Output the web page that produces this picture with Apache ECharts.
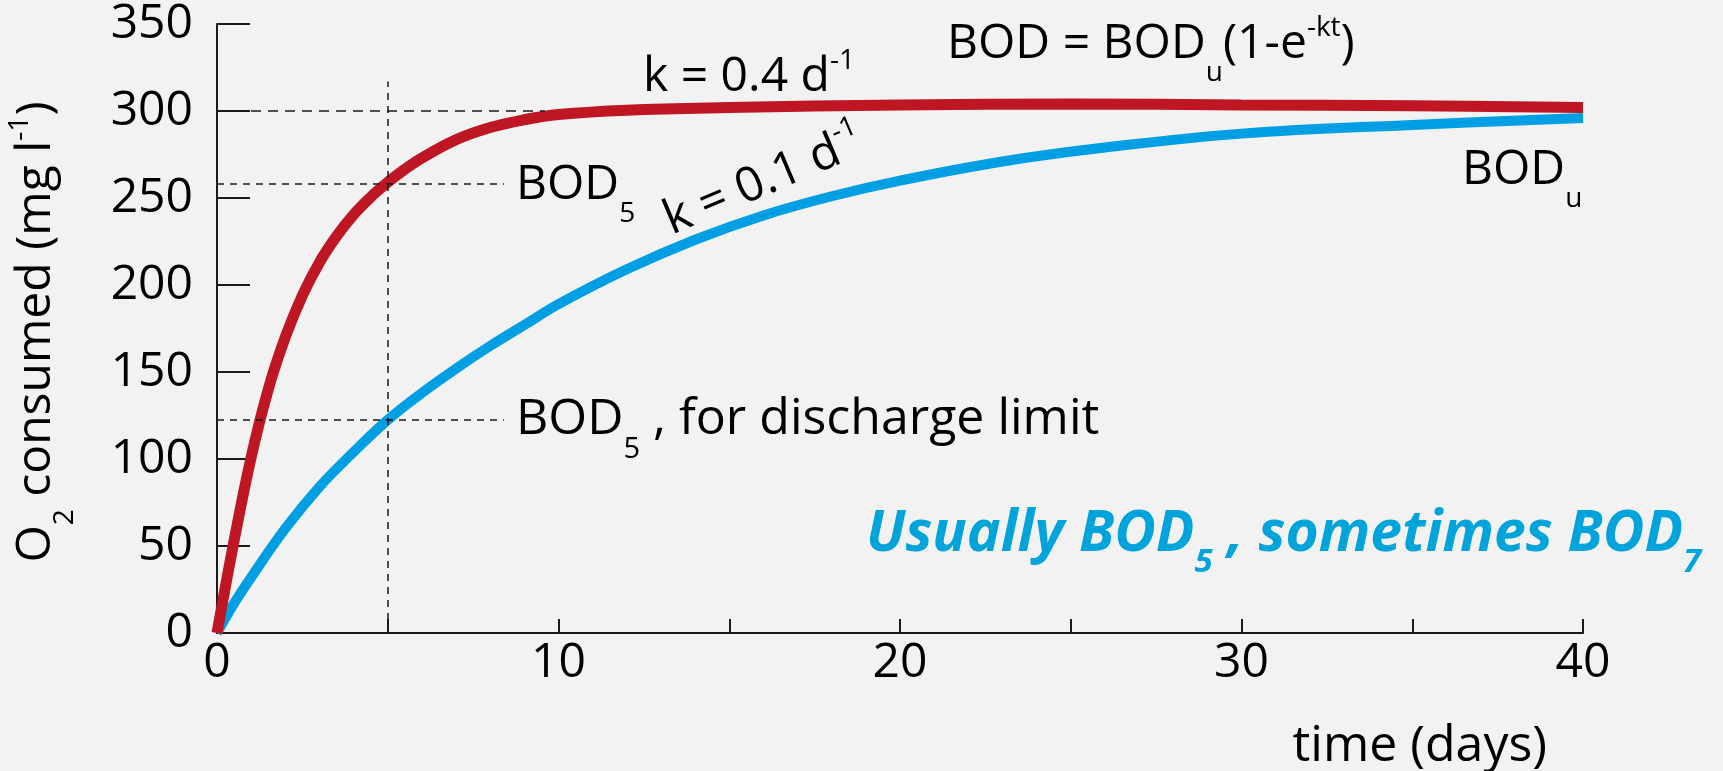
<!DOCTYPE html>
<html>
<head>
<meta charset="utf-8">
<script src="https://cdn.jsdelivr.net/npm/echarts@6/dist/echarts.min.js"></script>
<style>
html, body { margin: 0; padding: 0; background: #f2f2f2; }
#main-chart { width: 1723px; height: 771px; }
</style>
</head>
<body>
<div id="main-chart"></div>
<script>
var mainChart;
var FONT = "'Open Sans', 'Noto Sans', sans-serif";

// k = 0.4 d-1 curve (days, mg/l)
var fastDays = [0, 0.5, 1, 1.5, 2, 2.5, 3, 3.5, 4, 4.5, 5, 5.5, 6, 7, 8, 9, 10, 12, 15, 20, 25, 30, 35, 40];
var fastBod = [0, 53, 101, 140, 170, 194, 213, 228, 240.5, 250.5, 259, 266.5, 273, 283.5, 290.5, 295, 298, 300.5, 302, 303.5, 304, 303.5, 303, 302];

// k = 0.1 d-1 curve
var slowDays = [0, 0.5, 1, 2, 3, 4, 5, 6, 7, 8, 9, 10, 12, 14, 16, 18, 20, 23, 26, 30, 35, 40];
var slowBod = [0, 17, 32, 60, 84, 104, 122.5, 138, 152, 165, 177, 189, 209, 226, 240, 251, 260, 271, 279, 287, 292, 296];

// dashed guides
var guideLevels = [300, 258, 122.5];
var guideEnds = [9.6, 8.4, 8.4];
var bod5Day = 5;
var bod5Top = 317;

var xTicks = [0, 10, 20, 30, 40];
var yTicks = [0, 50, 100, 150, 200, 250, 300, 350];

window.onload = function () {
    chartInit();
};

function pairs(xs, ys) {
    var out = [];
    for (var i = 0; i < xs.length; i++) out.push([xs[i], ys[i]]);
    return out;
}

function richSet(size, color, weight, style, lh) {
    var sub = Math.round(size * 0.58);
    var tok = function (fs, va, pad) {
        return {
            fontFamily: FONT, fontSize: fs, fontWeight: weight, fontStyle: style,
            fill: color, color: color, verticalAlign: va, padding: pad
        };
    };
    var m = tok(size, 'middle', [0, 0, 0, 0]);
    m.lineHeight = lh;
    return {
        m: m,
        sub: tok(sub, 'bottom', [0, 0, 0, 0]),
        sup: tok(sub, 'top', [13, 0, 0, 0])
    };
}

function label(x, y, text, opts) {
    opts = opts || {};
    var size = opts.size || 48;
    return {
        type: 'text',
        x: x, y: y,
        rotation: opts.rotation || 0,
        style: {
            text: text,
            rich: richSet(size, opts.color || '#000', opts.weight || 'normal', opts.style || 'normal', opts.lh || 86),
            align: opts.align || 'left',
            verticalAlign: 'middle'
        }
    };
}

function chartInit() {
    mainChart = echarts.init(document.getElementById('main-chart'));

    var guideLines = [];
    for (var i = 0; i < guideLevels.length; i++) {
        guideLines.push([
            { coord: [0, guideLevels[i]], lineStyle: { type: i == 0 ? [10, 7] : [7, 6] } },
            { coord: [guideEnds[i], guideLevels[i]] }
        ]);
    }
    guideLines.push([{ coord: [bod5Day, 0] }, { coord: [bod5Day, bod5Top] }]);

    var mainOpt = {
        backgroundColor: '#f2f2f2',
        animation: false,
        grid: { left: 217, right: 140, top: 24, bottom: 138, outerBoundsMode: 'none' },
        xAxis: {
            type: 'value',
            min: 0, max: 40, interval: 5,
            axisLine: { lineStyle: { color: '#1a1a1a', width: 2 } },
            axisTick: { inside: true, length: 14, lineStyle: { color: '#1a1a1a', width: 2 } },
            axisLabel: {
                margin: 6,
                fontFamily: FONT, fontSize: 48, color: '#000',
                formatter: function (v) { return xTicks.indexOf(v) >= 0 ? String(v) : ''; }
            },
            splitLine: { show: false }
        },
        yAxis: {
            type: 'value',
            min: 0, max: 350, interval: 50,
            axisLine: { show: true, lineStyle: { color: '#1a1a1a', width: 2 } },
            axisTick: { show: true, inside: true, length: 33, lineStyle: { color: '#1a1a1a', width: 2 } },
            axisLabel: {
                margin: 24,
                fontFamily: FONT, fontSize: 48, color: '#000',
                formatter: function (v) { return yTicks.indexOf(v) >= 0 ? String(v) : ''; }
            },
            splitLine: { show: false }
        },
        series: [{
            name: 'guides',
            type: 'line',
            data: [],
            z: 1,
            markLine: {
                silent: true,
                symbol: ['none', 'none'],
                label: { show: false },
                lineStyle: { color: '#1a1a1a', width: 1.5, type: [7, 6] },
                data: guideLines
            }
        }, {
            name: 'k = 0.1',
            type: 'line',
            data: pairs(slowDays, slowBod),
            smooth: 0.4,
            showSymbol: false,
            z: 3,
            lineStyle: { color: '#009fe3', width: 10 }
        }, {
            name: 'k = 0.4',
            type: 'line',
            data: pairs(fastDays, fastBod),
            smooth: 0.4,
            showSymbol: false,
            z: 4,
            lineStyle: { color: '#be1622', width: 11 }
        }],
        graphic: [
            label(36, 332, '{m|O}{sub|2}{m| consumed (mg l}{sup|-1}{m|)}', { rotation: Math.PI / 2, align: 'center', size: 48 }),
            label(1547, 747, '{m|time (days)}', { align: 'right', size: 50 }),
            label(643, 77, '{m|k = 0.4 d}{sup|-1}'),
            label(947, 44, '{m|BOD = BOD}{sub|u}{m|(1-e}{sup|-kt}{m|)}'),
            label(516, 185, '{m|BOD}{sub|5}'),
            label(764, 181, '{m|k = 0.1 d}{sup|-1}', { rotation: 0.4, align: 'center' }),
            label(1462, 170, '{m|BOD}{sub|u}'),
            label(516, 420, '{m|BOD}{sub|5}{m| , for discharge limit}', { size: 50, lh: 88 }),
            label(866, 535, '{m|Usually BOD}{sub|5}{m| , sometimes BOD}{sub|7}', { color: '#00a3da', weight: 'bold', style: 'italic', size: 57, lh: 88 })
        ]
    };

    mainChart.setOption(mainOpt);
}
</script>
</body>
</html>
